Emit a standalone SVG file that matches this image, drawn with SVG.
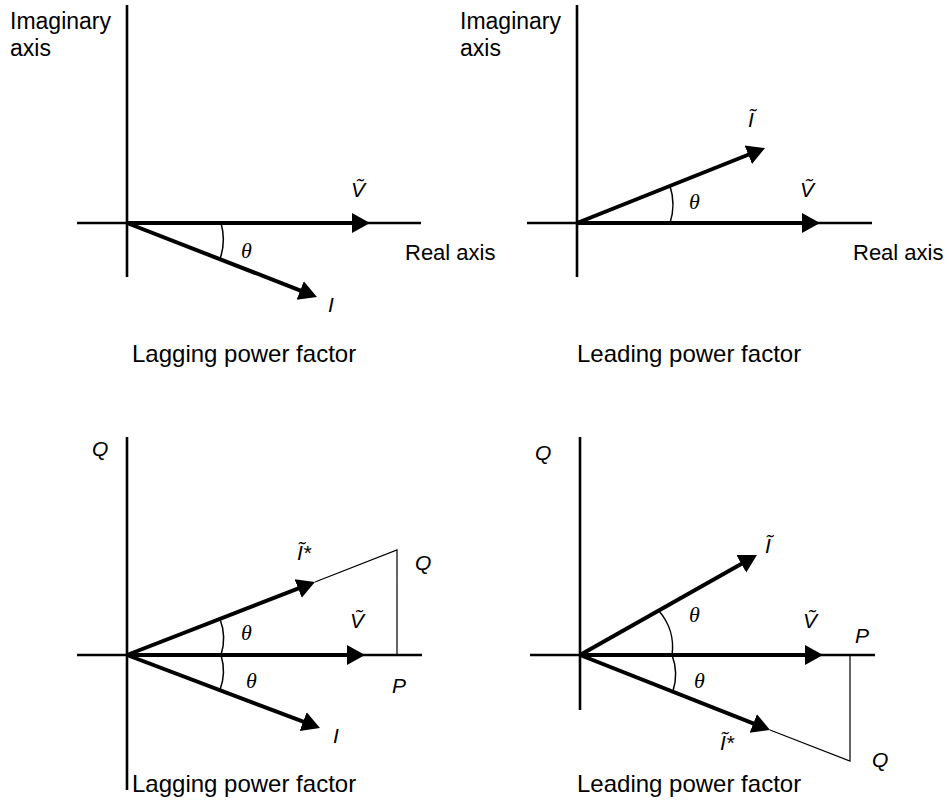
<svg xmlns="http://www.w3.org/2000/svg" width="949" height="803" viewBox="0 0 949 803">
<defs>
<style>
.ax{stroke:#000;stroke-width:2.6;fill:none}
.vec{stroke:#000;stroke-width:4;fill:none;marker-end:url(#ah)}
.thin{stroke:#000;stroke-width:1.2;fill:none}
.arc{stroke:#000;stroke-width:1.5;fill:none}
.t{font-family:"Liberation Sans",Arial,sans-serif;fill:#000}
.m{font-family:"Liberation Sans",Arial,sans-serif;font-style:italic;font-size:21px;fill:#000}
.th{font-family:"Liberation Serif","Times New Roman",serif;font-style:italic;font-size:22px;fill:#000}
</style>
<marker id="ah" markerUnits="userSpaceOnUse" markerWidth="20" markerHeight="22" viewBox="0 -11 20 22" refX="10" refY="0" orient="auto">
<path d="M0,-10 L18,0 L0,10 z" fill="#000"/>
</marker>
</defs>
<rect width="949" height="803" fill="#fff"/>

<g id="panel-lagging-top">
<g id="axes-tl">
<line class="ax" x1="127" y1="5" x2="127" y2="277"/>
<line class="ax" x1="77" y1="223" x2="421" y2="223"/>
</g>
<g id="connectors-tl">
<line class="vec" x1="127" y1="223" x2="362" y2="223"/>
<line class="vec" x1="127" y1="223" x2="309.5" y2="294.1"/>
<path class="arc" d="M221,223 A60,60 0 0 1 220,259"/>
</g>
<g id="labels-tl">
<text class="t" font-size="23" x="10" y="29">Imaginary</text>
<text class="t" font-size="23" x="10" y="56">axis</text>
<text class="t" font-size="22" x="405" y="260">Real axis</text>
<text class="m" x="351" y="197">Ṽ</text>
<text class="th" x="241" y="258">θ</text>
<text class="m" x="328" y="312">I</text>
<text class="t" font-size="24" x="132" y="362">Lagging power factor</text>
</g>
</g>

<g id="panel-leading-top">
<g id="axes-tr">
<line class="ax" x1="577" y1="5" x2="577" y2="277"/>
<line class="ax" x1="527" y1="223" x2="872" y2="223"/>
</g>
<g id="connectors-tr">
<line class="vec" x1="577" y1="223" x2="812" y2="223"/>
<line class="vec" x1="577" y1="223" x2="757.6" y2="151"/>
<path class="arc" d="M670,223 A60,60 0 0 0 670,186"/>
</g>
<g id="labels-tr">
<text class="t" font-size="23" x="460" y="29">Imaginary</text>
<text class="t" font-size="23" x="460" y="56">axis</text>
<text class="t" font-size="22" x="853" y="260">Real axis</text>
<text class="m" x="748" y="127">Ĩ</text>
<text class="m" x="800" y="197">Ṽ</text>
<text class="th" x="689" y="209">θ</text>
<text class="t" font-size="24" x="577" y="362">Leading power factor</text>
</g>
</g>

<g id="panel-lagging-bottom">
<g id="axes-bl">
<line class="ax" x1="127" y1="437" x2="127" y2="790"/>
<line class="ax" x1="77" y1="655" x2="422" y2="655"/>
</g>
<g id="connectors-bl">
<line class="vec" x1="127" y1="655" x2="357" y2="655"/>
<line class="vec" x1="127" y1="655" x2="307.5" y2="584.9"/>
<line class="vec" x1="127" y1="655" x2="312.5" y2="725.2"/>
<polyline class="thin" points="315,582 397,550 397,655"/>
<path class="arc" d="M221,655 A55,55 0 0 0 220,619"/>
<path class="arc" d="M221,655 A55,55 0 0 1 220,690"/>
</g>
<g id="labels-bl">
<text class="m" x="92" y="456">Q</text>
<text class="m" x="297" y="560">Ĩ*</text>
<text class="m" x="415" y="570">Q</text>
<text class="m" x="350" y="628">Ṽ</text>
<text class="th" x="241" y="640">θ</text>
<text class="th" x="246" y="688">θ</text>
<text class="m" x="392" y="693">P</text>
<text class="m" x="333" y="743">I</text>
<text class="t" font-size="24" x="132" y="792">Lagging power factor</text>
</g>
</g>

<g id="panel-leading-bottom">
<g id="axes-br">
<line class="ax" x1="580" y1="437" x2="580" y2="710"/>
<line class="ax" x1="530" y1="655" x2="875" y2="655"/>
</g>
<g id="connectors-br">
<line class="vec" x1="580" y1="655" x2="815" y2="655"/>
<line class="vec" x1="580" y1="655" x2="750" y2="558.9"/>
<line class="vec" x1="580" y1="655" x2="762.6" y2="727.1"/>
<polyline class="thin" points="770,730 850,761 850,655"/>
<path class="arc" d="M672,655 A55,55 0 0 0 659,611"/>
<path class="arc" d="M672,655 A55,55 0 0 1 673,691"/>
</g>
<g id="labels-br">
<text class="m" x="535" y="460">Q</text>
<text class="m" x="765" y="553">Ĩ</text>
<text class="th" x="689" y="622">θ</text>
<text class="th" x="694" y="688">θ</text>
<text class="m" x="803" y="628">Ṽ</text>
<text class="m" x="855" y="643">P</text>
<text class="m" x="720" y="750">Ĩ*</text>
<text class="m" x="872" y="767">Q</text>
<text class="t" font-size="24" x="577" y="792">Leading power factor</text>
</g>
</g>
</svg>
